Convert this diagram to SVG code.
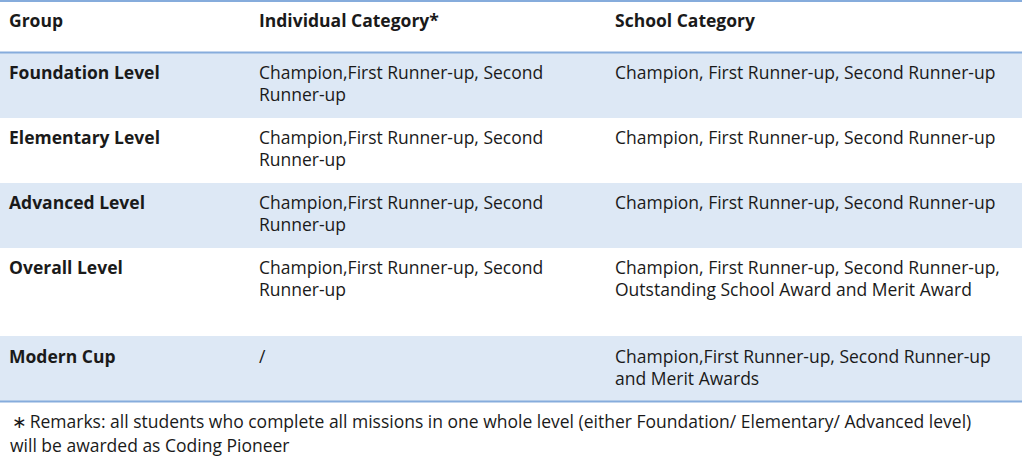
<svg xmlns="http://www.w3.org/2000/svg" width="1024" height="474" viewBox="0 0 1024 474">
<style>
.t{font-family:"Open Sans","Noto Sans","DejaVu Sans",sans-serif;font-size:17.5px;fill:#1a1a1a}
.b{font-weight:bold}
.band{fill:#dde8f5}
.rule{stroke:#86acdc;stroke-width:2}
</style>
<rect width="1024" height="474" fill="#ffffff"/>
<g id="rows">
<rect class="band" x="0" y="53" width="1022" height="65"/>
<rect class="band" x="0" y="183" width="1022" height="65"/>
<rect class="band" x="0" y="336" width="1022" height="65"/>
<line class="rule" x1="0" y1="1" x2="1022" y2="1"/>
<line class="rule" x1="0" y1="52.5" x2="1022" y2="52.5"/>
<line class="rule" x1="0" y1="401.5" x2="1022" y2="401.5"/>
</g>
<g id="header">
<text class="t b" x="9" y="27">Group</text>
<text class="t b" x="259" y="27">Individual Category*</text>
<text class="t b" x="615" y="27">School Category</text>
</g>
<g id="row-foundation">
<text class="t b" x="9" y="78.5">Foundation Level</text>
<text class="t" x="259" y="78.5">Champion,First Runner-up, Second</text>
<text class="t" x="259" y="101">Runner-up</text>
<text class="t" x="615" y="78.5">Champion, First Runner-up, Second Runner-up</text>
</g>
<g id="row-elementary">
<text class="t b" x="9" y="143.5">Elementary Level</text>
<text class="t" x="259" y="143.5">Champion,First Runner-up, Second</text>
<text class="t" x="259" y="166">Runner-up</text>
<text class="t" x="615" y="143.5">Champion, First Runner-up, Second Runner-up</text>
</g>
<g id="row-advanced">
<text class="t b" x="9" y="208.5">Advanced Level</text>
<text class="t" x="259" y="208.5">Champion,First Runner-up, Second</text>
<text class="t" x="259" y="231">Runner-up</text>
<text class="t" x="615" y="208.5">Champion, First Runner-up, Second Runner-up</text>
</g>
<g id="row-overall">
<text class="t b" x="9" y="273.5">Overall Level</text>
<text class="t" x="259" y="273.5">Champion,First Runner-up, Second</text>
<text class="t" x="259" y="296">Runner-up</text>
<text class="t" x="615" y="273.5">Champion, First Runner-up, Second Runner-up,</text>
<text class="t" x="615" y="296">Outstanding School Award and Merit Award</text>
</g>
<g id="row-modern">
<text class="t b" x="9" y="362.5">Modern Cup</text>
<text class="t" x="259" y="362.5">/</text>
<text class="t" x="615" y="362.5">Champion,First Runner-up, Second Runner-up</text>
<text class="t" x="615" y="385">and Merit Awards</text>
</g>
<g id="remarks">
<text class="t" x="12" y="428">∗<tspan dx="3">Remarks: all students who complete all missions in one whole level (either Foundation/ Elementary/ Advanced level)</tspan></text>
<text class="t" x="10" y="452">will be awarded as Coding Pioneer</text>
</g>
</svg>
